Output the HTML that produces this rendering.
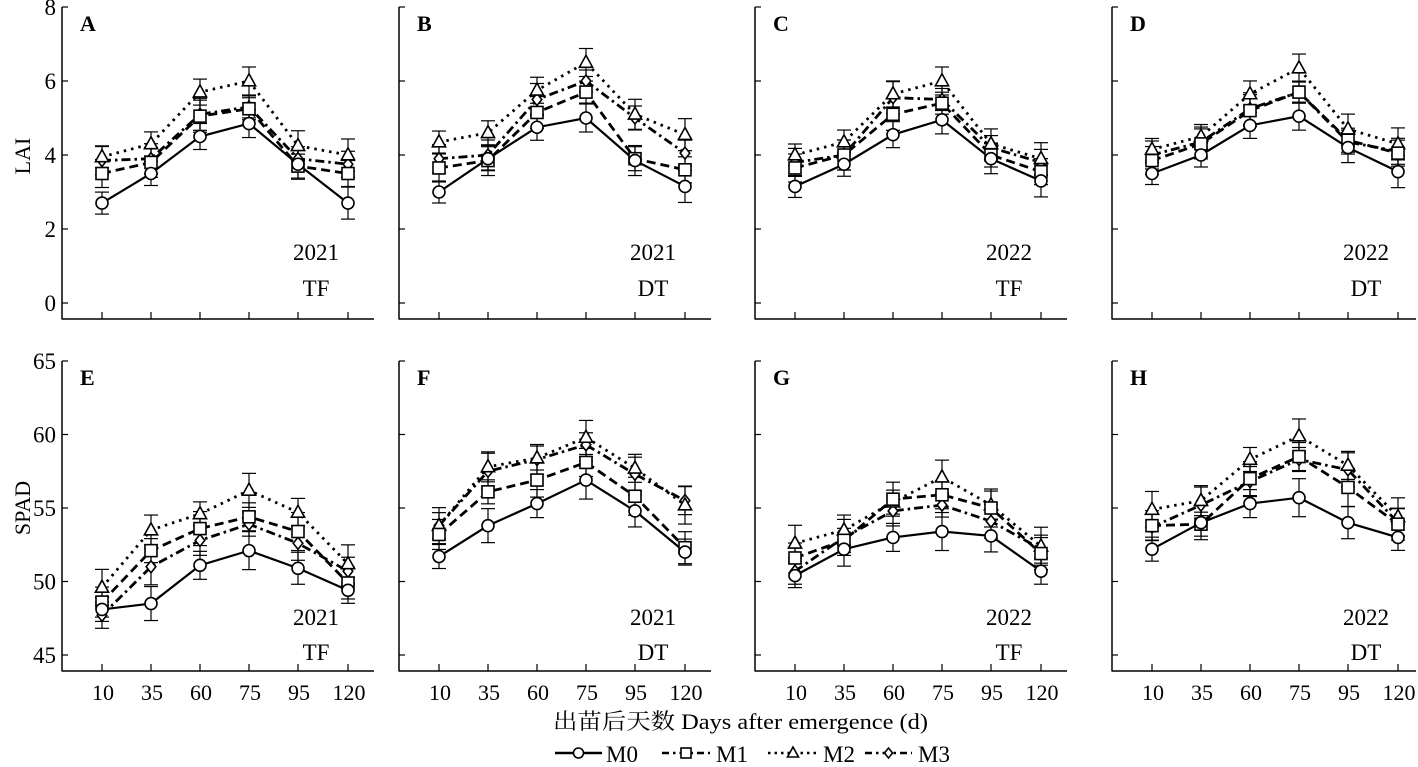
<!DOCTYPE html>
<html><head><meta charset="utf-8">
<style>
html,body{margin:0;padding:0;background:#fff;}
svg{display:block;font-family:"Liberation Serif","Noto Serif CJK SC",serif;}
</style></head>
<body>
<svg id="s" width="1418" height="767" xmlns="http://www.w3.org/2000/svg">
<text x="553" y="729" font-size="22" textLength="375" lengthAdjust="spacingAndGlyphs">出苗后天数 Days after emergence (d)</text>
<text transform="translate(30,156) rotate(-90)" font-size="22" text-anchor="middle">LAI</text>
<text transform="translate(30,508) rotate(-90)" font-size="22" text-anchor="middle">SPAD</text>
</svg>
<script>
(function(){
var s=document.getElementById('s');
var NS='http://www.w3.org/2000/svg';
function el(t,a,txt){var e=document.createElementNS(NS,t);for(var k in a)e.setAttribute(k,a[k]);if(txt!==undefined)e.textContent=txt;s.appendChild(e);return e;}
var lefts=[62,399,755,1112];
var offs=[40,89,138,187,236,286];
var dash=['none','9,5','2.5,5','9,4,2.5,4'];
function marker(k,x,y,r){
 var st={fill:'#fff',stroke:'#000','stroke-width':1.6};
 if(k==0){st.cx=x;st.cy=y;st.r=r;el('circle',st);}
 else if(k==1){st.x=x-r;st.y=y-r;st.width=2*r;st.height=2*r;el('rect',st);}
 else if(k==2){st.points=(x)+','+(y-r*1.2)+' '+(x-r*1.1)+','+(y+r*0.8)+' '+(x+r*1.1)+','+(y+r*0.8);el('polygon',st);}
 else {st.points=x+','+(y-r)+' '+(x+r*0.8)+','+y+' '+x+','+(y+r)+' '+(x-r*0.8)+','+y;el('polygon',st);}
}
var topD=[
[[2.7,3.5,4.5,4.85,3.75,2.7],[3.5,3.8,5.05,5.25,3.7,3.5],[3.95,4.3,5.7,6.0,4.25,4.0],[3.85,3.9,5.1,5.3,3.9,3.75]],
[[3.0,3.9,4.75,5.0,3.85,3.15],[3.65,3.85,5.15,5.7,3.9,3.6],[4.35,4.6,5.75,6.5,5.1,4.55],[3.9,4.0,5.5,6.0,5.0,4.05]],
[[3.15,3.75,4.55,4.95,3.9,3.3],[3.65,4.0,5.1,5.4,4.0,3.55],[4.0,4.35,5.65,6.0,4.3,3.9],[3.8,4.0,5.55,5.5,4.2,3.8]],
[[3.5,4.0,4.8,5.05,4.2,3.55],[3.85,4.3,5.2,5.7,4.4,4.05],[4.15,4.5,5.65,6.35,4.7,4.3],[4.0,4.35,5.25,5.7,4.35,4.1]]];
var botD=[
[[48.1,48.5,51.1,52.1,50.9,49.4],[48.6,52.1,53.6,54.4,53.4,49.9],[49.6,53.5,54.6,56.2,54.7,51.2],[47.7,51.0,52.8,53.9,52.6,50.7]],
[[51.7,53.8,55.3,56.9,54.8,52.0],[53.2,56.1,56.9,58.1,55.8,52.3],[53.8,57.8,58.4,59.8,57.7,55.2],[53.8,57.5,58.3,59.3,57.3,55.5]],
[[50.4,52.2,53.0,53.4,53.1,50.7],[51.6,52.8,55.6,55.9,55.0,51.9],[52.6,53.5,55.4,57.1,55.2,52.4],[50.7,53.0,54.8,55.2,54.1,52.2]],
[[52.2,54.0,55.3,55.7,54.0,53.0],[53.8,53.9,57.0,58.5,56.4,53.9],[54.9,55.5,58.3,59.9,57.9,54.4],[53.7,55.2,56.8,58.3,57.6,54.0]]];
var letters=['ABCD','EFGH'];var yrs=['2021','2021','2022','2022'];var sites=['TF','DT','TF','DT'];
for(var row=0;row<2;row++){
 var ax=row==0?319:671, ytop=row==0?7:361;
 var fy=row==0?function(v){return 303-37*v;}:function(v){return 655-14.7*(v-45);};
 var ticks=row==0?[0,2,4,6,8]:[45,50,55,60,65];
 var data=row==0?topD:botD;
 for(var p=0;p<4;p++){
  var L=lefts[p], R=Math.min(L+312,1416);
  el('line',{x1:L,y1:ytop,x2:L,y2:ax+0.5,stroke:'#000','stroke-width':1.5});
  el('line',{x1:L,y1:ax,x2:R,y2:ax,stroke:'#000','stroke-width':1.5});
  ticks.forEach(function(t){var y=fy(t);el('line',{x1:L,y1:y,x2:L+6,y2:y,stroke:'#000','stroke-width':1.2});
   if(p==0)el('text',{x:L-6,y:y+8,'font-size':23,'text-anchor':'end'},t);});
  offs.forEach(function(o,i){el('line',{x1:L+o,y1:ax,x2:L+o,y2:ax-7,stroke:'#000','stroke-width':1.2});
   if(row==1)el('text',{x:L+o+1,y:ax+29,'font-size':22,'text-anchor':'middle'},[10,35,60,75,95,120][i]);});
  el('text',{x:L+18,y:ytop+24,'font-size':22,'font-weight':'bold'},letters[row][p]);
  el('text',{x:L+254,y:ax-(row==0?59:46),'font-size':23,'text-anchor':'middle'},yrs[p]);
  el('text',{x:L+254,y:ax-(row==0?23:11),'font-size':23,'text-anchor':'middle'},sites[p]);
  for(var k=3;k>=0;k--){
   var pts=data[p][k].map(function(v,i){return (L+offs[i])+','+fy(v);}).join(' ');
   var a={points:pts,fill:'none',stroke:'#000','stroke-width':k==0?2.2:2.8};
   if(k>0)a['stroke-dasharray']=dash[k];
   el('polyline',a);
   data[p][k].forEach(function(v,i){var x=L+offs[i],y=fy(v),e=(row==0?(11+((i*7+k*3)%6)):(12+((i*5+k*3)%8)));
    el('line',{x1:x,y1:y-e,x2:x,y2:y+e,stroke:'#000','stroke-width':1.2});
    el('line',{x1:x-7,y1:y-e,x2:x+7,y2:y-e,stroke:'#000','stroke-width':1.2});
    el('line',{x1:x-7,y1:y+e,x2:x+7,y2:y+e,stroke:'#000','stroke-width':1.2});});
  }
  for(var k2=3;k2>=0;k2--)data[p][k2].forEach(function(v,i){marker(k2,L+offs[i],fy(v),6);});
 }
}
var lg=[[555,602,606,'M0'],[662,710,716,'M1'],[768,818,823,'M2'],[865,912,918,'M3']];
lg.forEach(function(g,k){var a={x1:g[0],y1:753,x2:g[1],y2:753,stroke:'#000','stroke-width':2.5};
 if(k>0)a['stroke-dasharray']=k==2?'2.5,4':'7,4,2.5,4';el('line',a);marker(k,(g[0]+g[1])/2,753,5);
 el('text',{x:g[2],y:762,'font-size':23},g[3]);});
})();
</script>
</body></html>
